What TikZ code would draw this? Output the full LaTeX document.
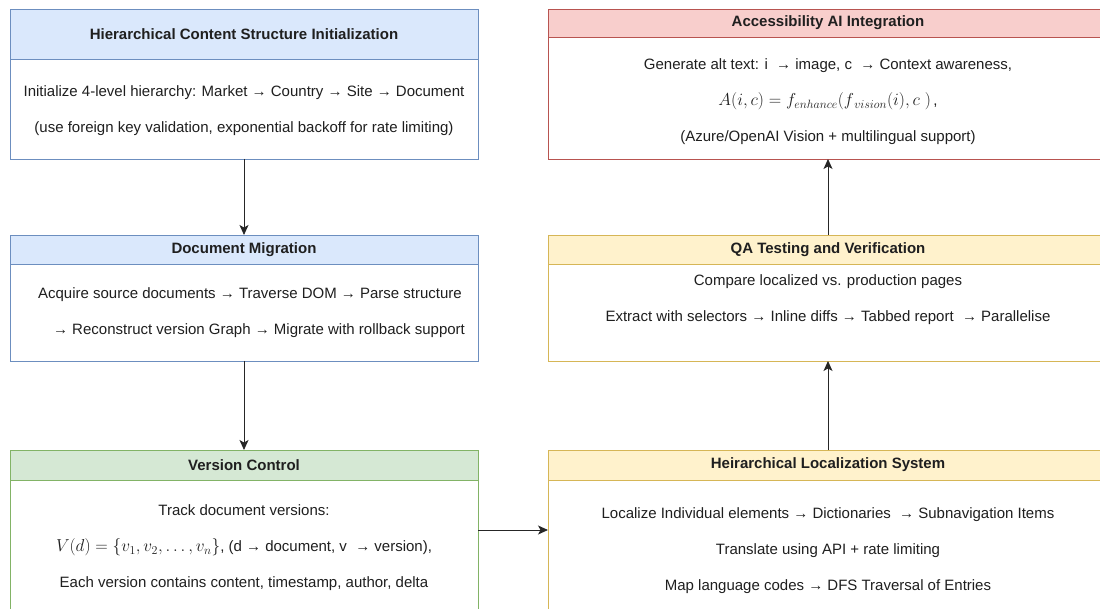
\documentclass[tikz,border=0pt]{standalone}
\usepackage{fontspec}
\setmainfont{Liberation Sans}
\usetikzlibrary{positioning,arrows.meta}

\definecolor{blueFill}{HTML}{DAE8FC}
\definecolor{blueLine}{HTML}{6C8EBF}
\definecolor{greenFill}{HTML}{D5E8D4}
\definecolor{greenLine}{HTML}{82B366}
\definecolor{yellowFill}{HTML}{FFF2CC}
\definecolor{yellowLine}{HTML}{D6B656}
\definecolor{redFill}{HTML}{F8CECC}
\definecolor{redLine}{HTML}{B85450}
\definecolor{inkGray}{HTML}{1F1F1F}

\newcommand{\bigmath}[1]{{\fontsize{16.5}{36}\selectfont$#1$}}

\tikzset{
  head/.style={draw, rectangle, inner sep=0pt, outer sep=0pt, line width=0.9pt, text=inkGray,
    minimum height=29pt, font=\bfseries\fontsize{15}{18}\selectfont},
  body/.style={draw, fill=white, rectangle, inner sep=0pt, outer sep=0pt, line width=0.9pt,
    text=inkGray, align=center, font=\fontsize{15}{36}\selectfont},
  leftbox/.style={minimum width=468pt},
  rightbox/.style={minimum width=560pt},
  flow/.style={-{Stealth[length=10pt,width=9pt,inset=2.5pt]}, line width=0.9pt, draw=black!85}
}

\begin{document}
\begin{tikzpicture}[x=1pt, y=-1pt]

\clip (0,0) rectangle (1100,609);

% Left column
\node[head, leftbox, draw=blueLine, fill=blueFill, minimum height=50pt] (initHead) at (244,34)
  {Hierarchical Content Structure Initialization};
\node[body, leftbox, draw=blueLine, minimum height=100pt, below=0pt of initHead] (initBody)
  {\rule{0pt}{15pt}Initialize 4-level hierarchy: Market → Country → Site → Document\\
   (use foreign key validation, exponential backoff for rate limiting)};

\node[head, leftbox, draw=blueLine, fill=blueFill] (migHead) at (244,249.5) {Document Migration};
\node[body, leftbox, draw=blueLine, minimum height=97pt, below=0pt of migHead] (migBody)
  {\hspace*{12pt}Acquire source documents → Traverse DOM → Parse structure\\
   \hspace*{30pt}→ Reconstruct version Graph → Migrate with rollback support};

\node[head, leftbox, draw=greenLine, fill=greenFill, minimum height=30pt] (verHead) at (244,465) {Version Control};
\node[body, leftbox, draw=greenLine, minimum height=136pt, below=0pt of verHead] (verBody)
  {Track document versions:\\
   \bigmath{V(d)=\{v_1,v_2,\ldots,v_n\}}, (d → document, v~ → version),\\
   Each version contains content, timestamp, author, delta};

% Right column
\node[head, rightbox, draw=redLine, fill=redFill, minimum height=28pt] (accHead) at (828,23)
  {Accessibility AI Integration};
\node[body, rightbox, draw=redLine, minimum height=122pt, below=0pt of accHead] (accBody)
  {\rule{0pt}{19pt}Generate alt text: i~ → image, c~ → Context awareness,\\
   \bigmath{A(i,c)=f_{enhance}(f_{\,vision}(i),c\;)}\,,\\
   (Azure/OpenAI Vision + multilingual support)};

\node[head, rightbox, draw=yellowLine, fill=yellowFill] (qaHead) at (828,249.5) {QA Testing and Verification};
\node[body, rightbox, draw=yellowLine, minimum height=97pt, below=0pt of qaHead] (qaBody)
  {Compare localized vs. production pages\\
   Extract with selectors → Inline diffs → Tabbed report~ → Parallelise\\[-7pt] \mbox{}};

\node[head, rightbox, draw=yellowLine, fill=yellowFill, minimum height=30pt] (locHead) at (828,465)
  {Heirarchical Localization System};
\node[body, rightbox, draw=yellowLine, minimum height=142pt, below=0pt of locHead] (locBody)
  {Localize Individual elements → Dictionaries~ → Subnavigation Items\\
   Translate using API + rate limiting\\
   Map language codes → DFS Traversal of Entries};

% Connectors
\draw[flow] (initBody.south) -- (migHead.north);
\draw[flow] (migBody.south) -- (verHead.north);
\draw[flow] (verBody.east |- 0,530) -- (locBody.west |- 0,530);
\draw[flow] (locHead.north) -- (qaBody.south);
\draw[flow] (qaHead.north) -- (accBody.south);

\end{tikzpicture}
\end{document}
